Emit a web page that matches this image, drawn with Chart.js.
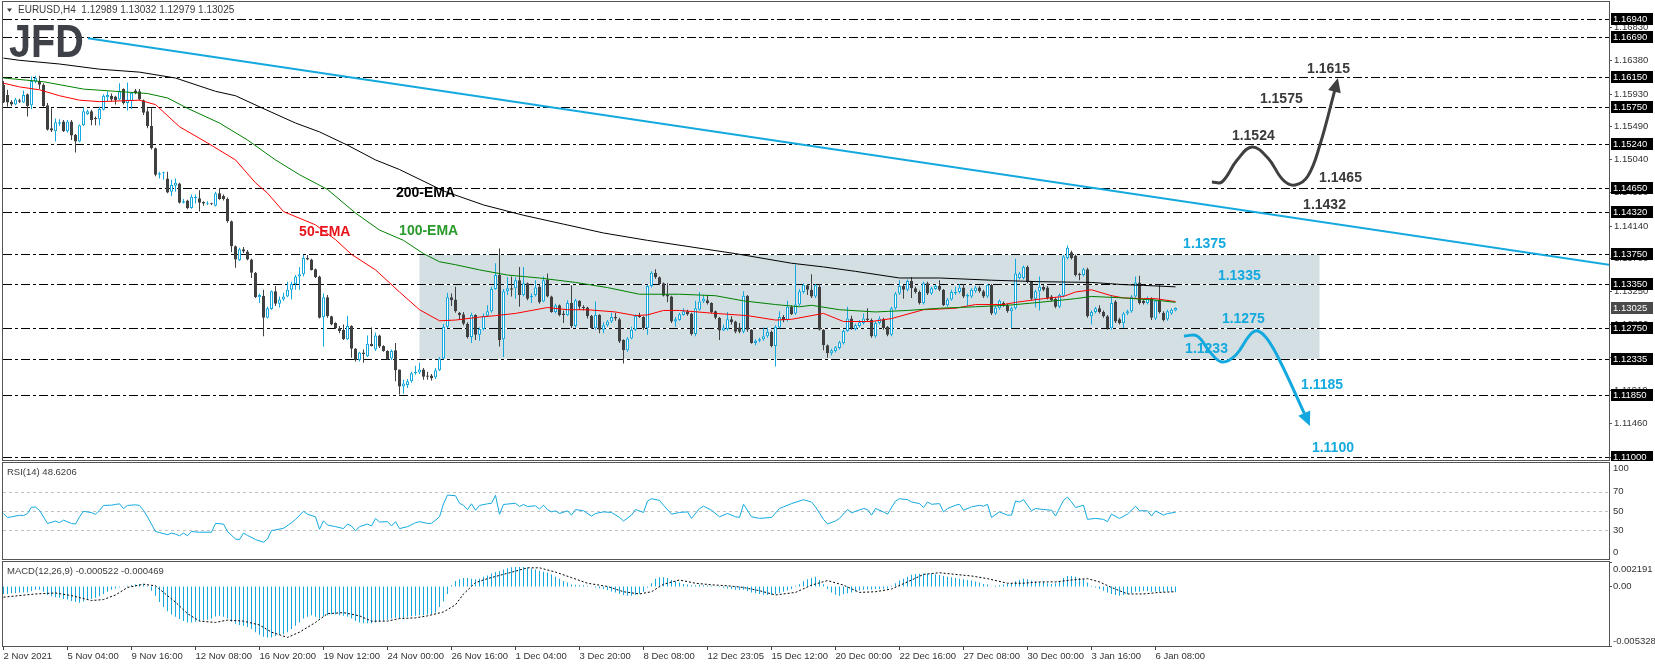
<!DOCTYPE html>
<html>
<head>
<meta charset="utf-8">
<title>EURUSD H4</title>
<script src="https://cdn.jsdelivr.net/npm/chart.js@4.4.1/dist/chart.umd.min.js"></script>
<style>
html, body { margin: 0; padding: 0; background: #fff; }
#wrap { position: relative; width: 1655px; height: 668px; overflow: hidden; background: #fff; }
#wrap canvas { position: absolute; left: 0; }
</style>
</head>
<body>
<div id="wrap">
  <canvas id="mainChart" width="1655" height="461" style="top:0"></canvas>
  <canvas id="rsiChart" width="1655" height="99" style="top:461px"></canvas>
  <canvas id="macdChart" width="1655" height="108" style="top:560px"></canvas>
</div>
<script>
// EURUSD H4 candles, one per bar
const opens = [
  1.1605,1.1591,1.1582,1.1578,1.1584,1.1581,1.1592,1.1577,1.1609,1.1610,
  1.1605,1.1577,1.1546,1.1542,1.1552,1.1555,1.1542,1.1555,1.1537,1.1528,
  1.1550,1.1565,1.1569,1.1560,1.1558,1.1571,1.1588,1.1590,1.1589,1.1585,
  1.1599,1.1580,1.1583,1.1597,1.1596,1.1584,1.1569,1.1549,1.1519,1.1483,
  1.1485,1.1478,1.1460,1.1468,1.1471,1.1445,1.1448,1.1438,1.1451,1.1451,
  1.1446,1.1443,1.1444,1.1441,1.1458,1.1454,1.1450,1.1420,1.1386,1.1367,
  1.1382,1.1379,1.1368,1.1350,1.1317,1.1319,1.1289,1.1301,1.1325,1.1308,
  1.1314,1.1318,1.1327,1.1335,1.1345,1.1348,1.1370,1.1368,1.1355,1.1345,
  1.1290,1.1317,1.1291,1.1282,1.1275,1.1273,1.1260,1.1278,1.1247,1.1232,
  1.1242,1.1237,1.1254,1.1246,1.1265,1.1251,1.1244,1.1234,1.1245,1.1219,
  1.1196,1.1198,1.1203,1.1214,1.1215,1.1219,1.1211,1.1211,1.1208,1.1218,
  1.1234,1.1277,1.1317,1.1314,1.1296,1.1294,1.1281,1.1263,1.1293,1.1266,
  1.1274,1.1292,1.1298,1.1328,1.1347,1.1260,1.1325,1.1329,1.1329,1.1340,
  1.1320,1.1336,1.1317,1.1320,1.1331,1.1311,1.1341,1.1318,1.1297,1.1306,
  1.1295,1.1293,1.1309,1.1278,1.1312,1.1304,1.1303,1.1292,1.1275,1.1293,
  1.1273,1.1279,1.1284,1.1290,1.1287,1.1259,1.1245,1.1261,1.1273,1.1292,
  1.1290,1.1275,1.1332,1.1350,1.1344,1.1336,1.1320,1.1318,1.1284,1.1286,
  1.1293,1.1298,1.1295,1.1267,1.1300,1.1311,1.1313,1.1309,1.1298,1.1289,
  1.1272,1.1274,1.1287,1.1284,1.1276,1.1270,1.1319,1.1273,1.1255,1.1258,
  1.1260,1.1264,1.1270,1.1251,1.1276,1.1290,1.1286,1.1304,1.1295,1.1307,
  1.1324,1.1333,1.1327,1.1318,1.1331,1.1273,1.1252,1.1241,1.1244,1.1248,
  1.1255,1.1271,1.1288,1.1274,1.1278,1.1282,1.1288,1.1286,1.1264,1.1282,
  1.1287,1.1277,1.1266,1.1302,1.1322,1.1332,1.1327,1.1339,1.1329,1.1324,
  1.1309,1.1336,1.1322,1.1328,1.1332,1.1327,1.1306,1.1314,1.1322,1.1324,
  1.1330,1.1318,1.1318,1.1325,1.1330,1.1325,1.1318,1.1334,1.1295,1.1302,
  1.1309,1.1306,1.1298,1.1302,1.1343,1.1343,1.1358,1.1338,1.1315,1.1325,
  1.1331,1.1330,1.1318,1.1315,1.1304,1.1319,1.1370,1.1378,1.1373,1.1348,
  1.1347,1.1355,1.1291,1.1297,1.1302,1.1297,1.1291,1.1275,1.1311,1.1287,
  1.1282,1.1295,1.1298,1.1318,1.1337,1.1312,1.1309,1.1315,1.1288,1.1312,
  1.1296,1.1287,1.1295,1.12989
];
const highs = [
  1.1610,1.1598,1.1584,1.1587,1.1586,1.1597,1.1593,1.1616,1.1617,1.1617,
  1.1607,1.1580,1.1573,1.1559,1.1558,1.1557,1.1557,1.1557,1.1538,1.1551,
  1.1574,1.1571,1.1571,1.1562,1.1575,1.1592,1.1596,1.1593,1.1590,1.1607,
  1.1600,1.1608,1.1595,1.1599,1.1599,1.1585,1.1573,1.1573,1.1520,1.1487,
  1.1487,1.1487,1.1476,1.1478,1.1472,1.1450,1.1449,1.1456,1.1456,1.1462,
  1.1447,1.1447,1.1445,1.1460,1.1465,1.1456,1.1452,1.1421,1.1387,1.1384,
  1.1385,1.1381,1.1369,1.1351,1.1322,1.1327,1.1304,1.1326,1.1332,1.1318,
  1.1323,1.1338,1.1338,1.1347,1.1358,1.1374,1.1374,1.1369,1.1356,1.1346,
  1.1322,1.1320,1.1292,1.1283,1.1278,1.1280,1.1292,1.1279,1.1248,1.1243,
  1.1246,1.1265,1.1276,1.1269,1.1266,1.1252,1.1245,1.1246,1.1255,1.1219,
  1.1205,1.1206,1.1216,1.1224,1.1228,1.1221,1.1216,1.1213,1.1221,1.1236,
  1.1281,1.1323,1.1322,1.1331,1.1297,1.1297,1.1283,1.1296,1.1294,1.1276,
  1.1295,1.1306,1.1331,1.1363,1.1383,1.1328,1.1344,1.1345,1.1344,1.1358,
  1.1358,1.1337,1.1322,1.1340,1.1334,1.1345,1.1349,1.1319,1.1308,1.1307,
  1.1299,1.1313,1.1333,1.1315,1.1313,1.1306,1.1304,1.1293,1.1311,1.1294,
  1.1283,1.1286,1.1296,1.1296,1.1289,1.1260,1.1263,1.1277,1.1294,1.1296,
  1.1291,1.1334,1.1352,1.1355,1.1345,1.1337,1.1336,1.1319,1.1290,1.1296,
  1.1302,1.1300,1.1296,1.1312,1.1324,1.1320,1.1320,1.1310,1.1299,1.1290,
  1.1280,1.1297,1.1291,1.1285,1.1282,1.1325,1.1320,1.1274,1.1260,1.1262,
  1.1276,1.1276,1.1272,1.1279,1.1298,1.1293,1.1312,1.1306,1.1361,1.1328,
  1.1336,1.1335,1.1348,1.1335,1.1335,1.1274,1.1253,1.1247,1.1251,1.1258,
  1.1273,1.1304,1.1292,1.1281,1.1286,1.1295,1.1302,1.1288,1.1284,1.1291,
  1.1289,1.1278,1.1304,1.1324,1.1340,1.1334,1.1341,1.1344,1.1331,1.1326,
  1.1338,1.1338,1.1331,1.1334,1.1340,1.1328,1.1316,1.1327,1.1331,1.1335,
  1.1335,1.1322,1.1329,1.1332,1.1332,1.1327,1.1335,1.1335,1.1305,1.1314,
  1.1311,1.1308,1.1304,1.1369,1.1351,1.1360,1.1360,1.1339,1.1327,1.1345,
  1.1333,1.1332,1.1320,1.1317,1.1322,1.1374,1.1387,1.1380,1.1375,1.1350,
  1.1357,1.1357,1.1299,1.1304,1.1306,1.1299,1.1293,1.1320,1.1313,1.1289,
  1.1297,1.1300,1.1320,1.1345,1.1346,1.1314,1.1318,1.1317,1.1314,1.1333,
  1.1298,1.1300,1.1302,1.13032
];
const lows = [
  1.1580,1.1575,1.1576,1.1577,1.1580,1.1580,1.1562,1.1572,1.1607,1.1599,
  1.1575,1.1543,1.1541,1.1528,1.1549,1.1541,1.1540,1.1530,1.1513,1.1527,
  1.1549,1.1564,1.1550,1.1550,1.1550,1.1570,1.1582,1.1582,1.1578,1.1584,
  1.1578,1.1570,1.1572,1.1592,1.1584,1.1564,1.1546,1.1517,1.1481,1.1478,
  1.1476,1.1458,1.1454,1.1460,1.1444,1.1444,1.1436,1.1437,1.1444,1.1433,
  1.1441,1.1442,1.1442,1.1440,1.1449,1.1448,1.1418,1.1378,1.1357,1.1366,
  1.1377,1.1367,1.1343,1.1316,1.1309,1.1264,1.1288,1.1300,1.1305,1.1303,
  1.1312,1.1317,1.1314,1.1327,1.1327,1.1345,1.1367,1.1353,1.1343,1.1288,
  1.1250,1.1289,1.1279,1.1274,1.1268,1.1259,1.1259,1.1235,1.1230,1.1230,
  1.1228,1.1236,1.1250,1.1244,1.1248,1.1243,1.1232,1.1232,1.1203,1.1185,
  1.1186,1.1194,1.1201,1.1212,1.1213,1.1205,1.1205,1.1204,1.1206,1.1217,
  1.1233,1.1275,1.1305,1.1296,1.1286,1.1279,1.1261,1.1255,1.1259,1.1258,
  1.1272,1.1290,1.1296,1.1327,1.1250,1.1236,1.1320,1.1318,1.1315,1.1304,
  1.1318,1.1313,1.1309,1.1318,1.1308,1.1310,1.1317,1.1296,1.1295,1.1291,
  1.1282,1.1292,1.1275,1.1276,1.1300,1.1299,1.1288,1.1274,1.1273,1.1268,
  1.1268,1.1277,1.1282,1.1285,1.1255,1.1227,1.1243,1.1260,1.1271,1.1289,
  1.1273,1.1266,1.1330,1.1342,1.1333,1.1318,1.1310,1.1282,1.1277,1.1285,
  1.1292,1.1292,1.1265,1.1264,1.1299,1.1309,1.1307,1.1295,1.1287,1.1259,
  1.1271,1.1272,1.1280,1.1268,1.1268,1.1268,1.1270,1.1254,1.1252,1.1256,
  1.1258,1.1262,1.1249,1.1223,1.1275,1.1283,1.1284,1.1293,1.1293,1.1305,
  1.1322,1.1320,1.1316,1.1316,1.1272,1.1245,1.1235,1.1238,1.1242,1.1246,
  1.1253,1.1270,1.1273,1.1272,1.1276,1.1280,1.1284,1.1262,1.1262,1.1280,
  1.1273,1.1264,1.1264,1.1300,1.1320,1.1315,1.1325,1.1316,1.1322,1.1307,
  1.1307,1.1320,1.1320,1.1327,1.1325,1.1305,1.1304,1.1312,1.1320,1.1322,
  1.1316,1.1305,1.1316,1.1323,1.1323,1.1316,1.1316,1.1293,1.1293,1.1300,
  1.1304,1.1296,1.1275,1.1300,1.1341,1.1341,1.1336,1.1313,1.1303,1.1299,
  1.1325,1.1314,1.1311,1.1302,1.1302,1.1317,1.1368,1.1368,1.1345,1.1340,
  1.1345,1.1289,1.1280,1.1295,1.1295,1.1289,1.1273,1.1273,1.1282,1.1280,
  1.1275,1.1293,1.1296,1.1316,1.1307,1.1307,1.1307,1.1286,1.1286,1.1295,
  1.1284,1.1285,1.1293,1.12979
];
const closes = [
  1.1581,1.1581,1.1578,1.1585,1.1582,1.1591,1.1576,1.1610,1.1614,1.1605,
  1.1576,1.1544,1.1543,1.1554,1.1554,1.1542,1.1555,1.1536,1.1528,1.1550,
  1.1569,1.1569,1.1557,1.1558,1.1572,1.1590,1.1591,1.1585,1.1584,1.1596,
  1.1580,1.1585,1.1594,1.1593,1.1585,1.1567,1.1549,1.1519,1.1483,1.1485,
  1.1486,1.1459,1.1469,1.1472,1.1445,1.1447,1.1438,1.1453,1.1453,1.1445,
  1.1444,1.1444,1.1443,1.1458,1.1450,1.1450,1.1420,1.1386,1.1368,1.1382,
  1.1379,1.1368,1.1350,1.1317,1.1320,1.1289,1.1302,1.1325,1.1308,1.1314,
  1.1318,1.1327,1.1335,1.1345,1.1348,1.1370,1.1368,1.1354,1.1344,1.1289,
  1.1317,1.1291,1.1280,1.1275,1.1271,1.1260,1.1278,1.1247,1.1232,1.1242,
  1.1240,1.1254,1.1251,1.1265,1.1250,1.1244,1.1233,1.1244,1.1218,1.1196,
  1.1200,1.1203,1.1214,1.1216,1.1219,1.1209,1.1209,1.1207,1.1218,1.1234,
  1.1277,1.1317,1.1313,1.1298,1.1293,1.1281,1.1263,1.1293,1.1266,1.1274,
  1.1292,1.1298,1.1328,1.1347,1.1259,1.1325,1.1329,1.1327,1.1340,1.1320,
  1.1336,1.1315,1.1319,1.1330,1.1310,1.1340,1.1318,1.1297,1.1306,1.1293,
  1.1293,1.1309,1.1278,1.1313,1.1304,1.1302,1.1291,1.1275,1.1293,1.1273,
  1.1279,1.1284,1.1290,1.1288,1.1257,1.1245,1.1261,1.1273,1.1292,1.1290,
  1.1275,1.1332,1.1350,1.1344,1.1335,1.1319,1.1318,1.1284,1.1287,1.1294,
  1.1298,1.1294,1.1267,1.1302,1.1311,1.1315,1.1309,1.1297,1.1289,1.1272,
  1.1276,1.1287,1.1283,1.1270,1.1270,1.1319,1.1273,1.1255,1.1258,1.1260,
  1.1264,1.1270,1.1251,1.1277,1.1290,1.1286,1.1304,1.1294,1.1307,1.1325,
  1.1334,1.1327,1.1318,1.1333,1.1273,1.1252,1.1241,1.1245,1.1249,1.1256,
  1.1271,1.1288,1.1275,1.1279,1.1283,1.1288,1.1286,1.1264,1.1282,1.1288,
  1.1275,1.1266,1.1302,1.1322,1.1332,1.1327,1.1339,1.1329,1.1324,1.1309,
  1.1336,1.1322,1.1329,1.1332,1.1327,1.1306,1.1314,1.1324,1.1324,1.1330,
  1.1318,1.1320,1.1327,1.1330,1.1325,1.1318,1.1334,1.1295,1.1303,1.1312,
  1.1306,1.1298,1.1302,1.1349,1.1349,1.1358,1.1338,1.1315,1.1325,1.1331,
  1.1327,1.1316,1.1313,1.1304,1.1320,1.1372,1.1384,1.1370,1.1347,1.1347,
  1.1355,1.1291,1.1297,1.1302,1.1297,1.1291,1.1275,1.1309,1.1284,1.1282,
  1.1295,1.1298,1.1318,1.1337,1.1309,1.1309,1.1316,1.1289,1.1312,1.1297,
  1.1286,1.1298,1.1300,1.13025
];

// moving averages, read at sample bars
const ema50Idx = [0,4,9,14,19,24,34,38,44,51,58,63,66,70,78,83,87,93,99,104,109,113,119,123,128,136,141,146,153,158,161,165,169,178,186,193,197,205,210,217,222,230,238,243,250,253,260,265,268,272,277,280,285,288,293];
const ema50 = [1.1607,1.1602,1.1598,1.1590,1.1584,1.1582,1.1584,1.1578,1.1548,1.1526,1.1503,1.1472,1.1458,1.1433,1.1415,1.1395,1.1375,1.1354,1.1324,1.1300,1.1285,1.1286,1.1290,1.1292,1.1295,1.1303,1.1300,1.1300,1.1297,1.1292,1.1293,1.1299,1.1299,1.1295,1.1292,1.1286,1.1287,1.1295,1.1284,1.1284,1.1288,1.1300,1.1302,1.1307,1.1307,1.1310,1.1315,1.1318,1.1324,1.1327,1.1319,1.1316,1.1315,1.1315,1.1311];
const ema100Idx = [0,10,20,28,36,41,46,54,61,68,74,81,88,94,100,105,109,113,119,126,134,143,151,159,169,178,185,193,199,202,209,218,226,234,243,251,259,268,272,280,288,293];
const ema100 = [1.1614,1.1609,1.1599,1.1596,1.1593,1.1587,1.1573,1.1553,1.1530,1.1503,1.1483,1.1463,1.1431,1.1408,1.1394,1.1376,1.1365,1.1361,1.1354,1.1347,1.1343,1.1337,1.1330,1.1321,1.1321,1.1319,1.1312,1.1307,1.1304,1.1306,1.1300,1.1297,1.1299,1.1302,1.1304,1.1306,1.1310,1.1315,1.1318,1.1316,1.1313,1.1310];
const ema200Idx = [0,4,14,24,34,43,53,58,64,73,79,86,93,99,110,120,130,140,150,161,183,197,205,213,224,234,247,259,272,280,285,293];
const ema200 = [1.1641,1.1638,1.1633,1.1626,1.1622,1.1614,1.1596,1.1590,1.1575,1.1553,1.1541,1.1523,1.1503,1.1490,1.1461,1.1442,1.1428,1.1416,1.1404,1.1394,1.1376,1.1363,1.1358,1.1352,1.1343,1.1343,1.1340,1.1338,1.1337,1.1334,1.1333,1.1331];

// RSI(14), read at sample bars
const rsiIdx = [
  0,1,2,4,5,6,7,8,9,11, 13,14,15,17,18,19,20,22,23,24, 25,27,28,29,30,31,33,34,35,36,
  38,39,41,42,43,44,45,46,47,49, 52,53,55,56,58,59,60,61,63,65, 66,67,68,70,72,73,75,76,78,79,
  80,81,83,85,86,87,88,89,91,92, 93,94,96,97,98,99,101,103,104,106, 107,109,110,111,113,114,115,116,117,118,
  119,121,122,123,124,125,128,129,130,131, 133,134,135,136,137,138,139,141,142,143, 145,147,148,150,152,154,155,157,158,160,
  161,162,164,165,167,169,171,172,174,175, 177,179,181,183,184,185,187,189,192,194, 195,197,200,202,203,205,206,208,209,211,
  212,215,216,217,218,220,221,223,224,226, 227,229,230,231,232,234,235,236,238,239, 240,242,244,245,246,247,249,251,252,253,
  254,255,257,258,260,262,263,265,266,267, 268,270,271,273,275,276,277,279,281,283, 284,286,287,288,290,291,293
];
const rsiVals = [
  47.3,43.2,43.9,45.6,45.3,47.3,54,54,50.7,37, 39.5,37.8,40.5,37,36.4,43.9,49.7,48.3,46.6,50.7, 55.8,56.1,56.8,57.5,52.4,55.8,56.4,55.8,50.7,43.9,
  28.6,27.6,25.3,27,25.9,24.2,27,24.2,28.6,27.9, 27.9,37.1,36.4,28.6,20.8,20.2,27,24.6,20.2,17.5, 20.8,29.7,30.3,32,37.8,41.2,49.7,46.6,43.9,31,
  39.8,35.4,33.7,31.7,36.4,34.4,29.3,33.7,36.4,34.4, 42.2,38.5,38.9,34.4,38.9,31.7,33.7,37.8,38.9,37.1, 37.1,43.9,57.5,66.6,65.9,58.1,55.8,51.4,57.5,50.7,
  55.8,57.5,58.1,66.3,46.6,56.8,58.1,54.7,56.8,54.7, 55.4,52,56.1,51.4,49.1,50.2,47.4,50.2,45.7,51.5, 50.2,44.7,47.4,49.1,48.5,43.3,39.6,45.7,51.5,48.5,
  60.4,62.8,61.1,56,46.7,48.5,49.1,42.3,52.6,55, 50.8,44,47.4,44,43.3,57,44,42.3,43.3,52.6, 54.3,57.7,61.8,59.4,54.3,41.3,36.5,39.6,42.3,51.5,
  48.1,52.6,51.5,45.7,52.6,49.1,46.7,60.4,62.8,61.8, 59.4,57.7,53.6,59.4,57,57.7,49.1,52.6,56,57, 50.8,54.3,56,55,57,43.3,49.1,45.7,45.7,60.4,
  59.4,61.8,50.2,52.6,51.5,50.8,44.7,61.1,64.5,59.4, 53.6,56,41.3,42.3,41.3,38.9,46.7,42.3,46.7,55, 50.2,50.2,44.7,50.2,45.7,47.4,48.62
];

// MACD(12,26,9): main value per bar and the signal line at sample bars
const macdHist = [
  -0.00067,-0.00067,-0.00061,-0.00058,-0.00053,-0.00053,-0.00053,-0.00041,-0.00029,-0.00029,
  -0.00047,-0.00076,-0.00088,-0.00096,-0.00102,-0.00111,-0.00117,-0.00129,-0.00140,-0.00146,
  -0.00135,-0.00117,-0.00111,-0.00102,-0.00088,-0.00067,-0.00047,-0.00029,-0.00018,-0.00006,
  0.00003,0.00006,0.00012,0.00018,0.00020,0.00018,0.00006,-0.00038,-0.00082,-0.00140,
  -0.00184,-0.00222,-0.00251,-0.00272,-0.00292,-0.00310,-0.00322,-0.00322,-0.00316,-0.00310,
  -0.00304,-0.00298,-0.00287,-0.00269,-0.00263,-0.00272,-0.00287,-0.00316,-0.00333,-0.00345,
  -0.00351,-0.00363,-0.00380,-0.00409,-0.00433,-0.00450,-0.00456,-0.00456,-0.00444,-0.00433,
  -0.00427,-0.00409,-0.00380,-0.00351,-0.00322,-0.00287,-0.00272,-0.00257,-0.00272,-0.00287,
  -0.00269,-0.00257,-0.00251,-0.00251,-0.00257,-0.00263,-0.00272,-0.00287,-0.00310,-0.00322,
  -0.00330,-0.00330,-0.00330,-0.00322,-0.00316,-0.00304,-0.00298,-0.00287,-0.00281,-0.00287,
  -0.00281,-0.00272,-0.00266,-0.00263,-0.00257,-0.00257,-0.00251,-0.00246,-0.00234,-0.00184,
  -0.00135,-0.00067,0.00012,0.00050,0.00064,0.00076,0.00076,0.00070,0.00064,0.00070,
  0.00088,0.00099,0.00117,0.00129,0.00137,0.00152,0.00164,0.00173,0.00175,0.00175,
  0.00175,0.00170,0.00161,0.00152,0.00140,0.00132,0.00125,0.00108,0.00088,0.00070,
  0.00050,0.00035,0.00018,0.00015,0.00012,0.00012,0.00006,-0.00003,-0.00009,-0.00015,
  -0.00023,-0.00032,-0.00044,-0.00053,-0.00064,-0.00076,-0.00082,-0.00082,-0.00076,-0.00064,
  -0.00047,-0.00009,0.00029,0.00070,0.00082,0.00082,0.00076,0.00058,0.00047,0.00035,
  0.00023,0.00018,0.00012,0.00012,0.00015,0.00012,0.00009,0.00006,-0.00002,-0.00006,
  -0.00012,-0.00018,-0.00023,-0.00029,-0.00032,-0.00029,-0.00041,-0.00053,-0.00061,-0.00067,
  -0.00073,-0.00076,-0.00076,-0.00067,-0.00058,-0.00047,-0.00035,-0.00023,0.00006,0.00020,
  0.00047,0.00064,0.00079,0.00088,0.00058,0.00020,-0.00023,-0.00053,-0.00073,-0.00082,
  -0.00070,-0.00061,-0.00053,-0.00044,-0.00035,-0.00029,-0.00026,-0.00026,-0.00023,-0.00023,
  -0.00020,-0.00018,0.00006,0.00029,0.00053,0.00070,0.00088,0.00105,0.00111,0.00114,
  0.00117,0.00117,0.00114,0.00108,0.00102,0.00094,0.00088,0.00082,0.00076,0.00070,
  0.00064,0.00058,0.00053,0.00044,0.00035,0.00023,0.00018,-0.00002,0.00006,0.00012,
  0.00018,0.00023,0.00029,0.00047,0.00058,0.00070,0.00064,0.00053,0.00047,0.00041,
  0.00041,0.00029,0.00023,0.00029,0.00047,0.00076,0.00094,0.00094,0.00088,0.00076,
  0.00064,0.00035,0.00006,-0.00009,-0.00023,-0.00038,-0.00053,-0.00067,-0.00076,-0.00082,
  -0.00076,-0.00067,-0.00058,-0.00047,-0.00047,-0.00041,-0.00041,-0.00047,-0.00044,-0.00047,
  -0.00047,-0.00044,-0.00047,-0.000522
];
const signalIdx = [0,8,13,17,22,25,28,31,35,38,40,43,46,49,53,56,60,64,67,71,74,78,81,85,89,92,96,99,103,106,110,113,115,118,121,124,128,131,134,138,142,146,151,155,159,162,165,169,173,177,181,185,189,193,198,202,206,210,214,218,222,226,230,234,238,242,246,251,255,259,263,267,271,274,277,281,285,289,293];
const signalVals = [-0.00096,-0.00067,-0.00058,-0.00082,-0.00126,-0.00117,-0.00076,-0.00009,0.00020,0.00006,-0.00053,-0.00140,-0.00243,-0.00310,-0.00322,-0.00301,-0.00310,-0.00345,-0.00409,-0.00456,-0.00409,-0.00322,-0.00243,-0.00234,-0.00263,-0.00310,-0.00310,-0.00287,-0.00281,-0.00263,-0.00228,-0.00164,-0.00067,0.00035,0.00070,0.00099,0.00137,0.00167,0.00167,0.00129,0.00079,0.00029,0.00000,-0.00047,-0.00067,-0.00047,0.00020,0.00058,0.00029,0.00015,0.00006,-0.00009,-0.00038,-0.00076,-0.00053,0.00012,0.00053,0.00012,-0.00053,-0.00047,-0.00023,0.00041,0.00108,0.00123,0.00108,0.00094,0.00070,0.00029,0.00029,0.00041,0.00041,0.00058,0.00070,0.00041,-0.00009,-0.00067,-0.00067,-0.00053,-0.000469];

// horizontal levels and axis ticks
const levels = [1.1694, 1.1669, 1.1615, 1.1575, 1.1524, 1.1465, 1.1432, 1.1375, 1.1335, 1.1275, 1.12335, 1.1185, 1.1100];
const priceTicks = [1.1683, 1.1638, 1.1593, 1.1549, 1.1504, 1.1459, 1.1414, 1.1370, 1.1325, 1.1280, 1.1236, 1.1191, 1.1146, 1.1101];
const lastPrice = 1.13025;
const rsiTicks = [100, 70, 50, 30, 0];
const rsiLevels = [70, 50, 30];
const macdTicks = [0.002191, 0, -0.005328];
const timeIdx = [0,16,32,48,64,80,96,112,128,144,160,176,192,208,224,240,256,272,288];
const timeLabels = ['2 Nov 2021','5 Nov 04:00','9 Nov 16:00','12 Nov 08:00','16 Nov 20:00','19 Nov 12:00','24 Nov 00:00','26 Nov 16:00','1 Dec 04:00','3 Dec 20:00','8 Dec 08:00','12 Dec 23:05','15 Dec 12:00','20 Dec 00:00','22 Dec 16:00','27 Dec 08:00','30 Dec 00:00','3 Jan 16:00','6 Jan 08:00'];

// drawn objects (bar index, price)
const channelBars = [104, 329];
const channelPrices = [1.12335, 1.1375];
const trendIdx = [21.1, 401.4];
const trendPrice = [1.1668, 1.1361];
const upIdx = [302.1, 304.6, 308.4, 312.1, 316.1, 319.9, 322.9, 326.1, 329.1, 332.8, 333.6];
const upPrice = [1.14731, 1.14731, 1.15029, 1.15205, 1.15056, 1.14758, 1.14690, 1.14812, 1.15232, 1.15970, 1.16140];
const downIdx = [295.1, 298.4, 301.6, 304.6, 308.1, 311.6, 313.6, 316.1, 319.6, 325.3, 326.6];
const downPrice = [1.12644, 1.12644, 1.12427, 1.12292, 1.12387, 1.12658, 1.12712, 1.12590, 1.12251, 1.11584, 1.11424];

const FONT = '"Liberation Sans", Arial, sans-serif';
const CYAN = '#14a9de', DARK = '#404040', TEXT = '#333333', FRAME = '#555555';
const X_MIN = -0.125, X_MAX = 401.375;

const bars = opens.map((_, i) => i);
const isBull = bars.map(i => closes[i] >= opens[i]);
const pts = (xs, ys, n) => xs.slice(0, n || xs.length).map((x, k) => ({ x, y: ys[k] }));

function lineSet(label, data, color, width, order, extra) {
  return Object.assign({ type: 'line', label, data, borderColor: color, borderWidth: width,
    pointRadius: 0, fill: false, tension: 0, order }, extra || {});
}

function baseOptions(yMin, yMax, pad) {
  return {
    responsive: false, animation: false, devicePixelRatio: 1,
    layout: { padding: pad },
    plugins: { legend: { display: false }, tooltip: { enabled: false } },
    scales: {
      x: { type: 'linear', min: X_MIN, max: X_MAX, display: false, offset: false, bounds: 'data', grid: { offset: false } },
      y: { type: 'linear', min: yMin, max: yMax, display: false, bounds: 'data' }
    }
  };
}

function frame(ctx, a) {
  ctx.strokeStyle = FRAME; ctx.lineWidth = 1; ctx.setLineDash([]);
  ctx.strokeRect(a.left - 0.5, a.top - 0.5, a.right - a.left + 1, a.bottom - a.top + 1);
}

function arrowHead(ctx, x, y, xs, ys, color) {
  const n = xs.length;
  const bx = x.getPixelForValue(xs[n - 2]), by = y.getPixelForValue(ys[n - 2]);
  const tx = x.getPixelForValue(xs[n - 1]), ty = y.getPixelForValue(ys[n - 1]);
  const ang = Math.atan2(ty - by, tx - bx), len = 14, half = 6.5;
  const cx = tx - len * Math.cos(ang), cy = ty - len * Math.sin(ang);
  ctx.fillStyle = color;
  ctx.beginPath();
  ctx.moveTo(tx, ty);
  ctx.lineTo(cx + half * Math.sin(ang), cy - half * Math.cos(ang));
  ctx.lineTo(cx - half * Math.sin(ang), cy + half * Math.cos(ang));
  ctx.closePath();
  ctx.fill();
}

// ---------------- price panel ----------------
const mainDecor = {
  id: 'mainDecor',
  beforeDatasetsDraw(chart) {
    const { ctx, chartArea: a, scales: { x, y } } = chart;
    ctx.save();
    const x0 = x.getPixelForValue(channelBars[0]), x1 = x.getPixelForValue(channelBars[1]);
    const y0 = y.getPixelForValue(channelPrices[1]), y1 = y.getPixelForValue(channelPrices[0]);
    ctx.fillStyle = '#d3dfe3';
    ctx.fillRect(x0, y0, x1 - x0, y1 - y0);
    ctx.lineWidth = 1;
    levels.forEach(v => {
      const py = Math.round(y.getPixelForValue(v)) + 0.5;
      ctx.setLineDash([]); ctx.strokeStyle = '#ffffff';
      ctx.beginPath(); ctx.moveTo(x0, py); ctx.lineTo(x1, py); ctx.stroke();
      ctx.setLineDash([9, 3, 3, 3]); ctx.strokeStyle = '#000000';
      ctx.beginPath(); ctx.moveTo(a.left, py); ctx.lineTo(a.right, py); ctx.stroke();
    });
    ctx.restore();
  },
  afterDraw(chart) {
    const { ctx, chartArea: a, scales: { x, y } } = chart;
    ctx.save();
    arrowHead(ctx, x, y, upIdx, upPrice, '#404040');
    arrowHead(ctx, x, y, downIdx, downPrice, CYAN);

    // chart notes
    const notes = [
      ['200-EMA', 98.1, 1.14582, '#000000'], ['50-EMA', 73.9, 1.14053, '#e8141c'], ['100-EMA', 98.9, 1.14067, '#2a9a2a'],
      ['1.1615', 325.9, 1.16262, '#3a3a3a'], ['1.1575', 314.1, 1.15856, '#3a3a3a'], ['1.1524', 307.1, 1.15354, '#3a3a3a'],
      ['1.1465', 328.9, 1.14785, '#3a3a3a'], ['1.1432', 324.9, 1.14419, '#3a3a3a'],
      ['1.1375', 294.9, 1.13891, CYAN], ['1.1335', 303.6, 1.13457, CYAN], ['1.1275', 304.6, 1.12874, CYAN],
      ['1.1233', 295.4, 1.12468, CYAN], ['1.1185', 324.4, 1.11980, CYAN], ['1.1100', 327.1, 1.11126, CYAN]
    ];
    ctx.font = 'bold 14px ' + FONT;
    ctx.textBaseline = 'middle'; ctx.textAlign = 'left';
    notes.forEach(([t, i, p, c]) => { ctx.fillStyle = c; ctx.fillText(t, x.getPixelForValue(i), y.getPixelForValue(p)); });

    // logo
    ctx.save();
    ctx.fillStyle = '#3e4248';
    ctx.font = 'bold 46px ' + FONT;
    ctx.textBaseline = 'alphabetic';
    ctx.translate(9, 57); ctx.scale(0.86, 1);
    ctx.fillText('JFD', 0, 0);
    ctx.restore();

    // header
    ctx.fillStyle = '#3a3a3a';
    ctx.beginPath(); ctx.moveTo(7, 8.5); ctx.lineTo(12, 8.5); ctx.lineTo(9.5, 12); ctx.closePath(); ctx.fill();
    ctx.font = '10px ' + FONT; ctx.textBaseline = 'middle';
    ctx.fillText('EURUSD,H4  1.12989 1.13032 1.12979 1.13025', 18, 10.5);

    // price axis
    ctx.font = '9.5px ' + FONT;
    ctx.lineWidth = 1; ctx.setLineDash([]);
    priceTicks.forEach(v => {
      const py = Math.round(y.getPixelForValue(v)) + 0.5;
      ctx.strokeStyle = FRAME; ctx.beginPath(); ctx.moveTo(a.right, py); ctx.lineTo(a.right + 3, py); ctx.stroke();
      ctx.fillStyle = TEXT; ctx.fillText(v.toFixed(5), a.right + 5, py);
    });
    const box = (v, bg) => {
      const py = Math.round(y.getPixelForValue(v));
      ctx.fillStyle = bg; ctx.fillRect(a.right + 2, py - 6, 42, 12);
      ctx.fillStyle = '#ffffff'; ctx.fillText(v.toFixed(5), a.right + 4, py + 0.5);
    };
    levels.forEach(v => box(v, '#000000'));
    box(lastPrice, '#4a4a4a');
    frame(ctx, a);
    ctx.restore();
  }
};

new Chart(document.getElementById('mainChart'), {
  type: 'bar',
  data: {
    datasets: [
      { label: 'wick', data: bars.map(i => ({ x: i, y: [lows[i], highs[i]] })),
        backgroundColor: bars.map(i => isBull[i] ? CYAN : DARK), borderWidth: 0,
        barThickness: 1, maxBarThickness: 1, grouped: false, inflateAmount: 0, order: 6 },
      { label: 'body', data: bars.map(i => ({ x: i, y: [opens[i], closes[i]] })),
        backgroundColor: bars.map(i => isBull[i] ? '#ffffff' : DARK),
        borderColor: bars.map(i => isBull[i] ? CYAN : DARK), borderWidth: 1, borderSkipped: false,
        barThickness: 3, maxBarThickness: 3, minBarLength: 1, grouped: false, inflateAmount: 0, order: 5 },
      lineSet('200-EMA', pts(ema200Idx, ema200), '#000000', 1, 3),
      lineSet('100-EMA', pts(ema100Idx, ema100), '#008000', 1, 3),
      lineSet('50-EMA', pts(ema50Idx, ema50), '#ff0000', 1, 3),
      lineSet('trend', pts(trendIdx, trendPrice), CYAN, 2, 2),
      lineSet('up', pts(upIdx, upPrice, upIdx.length - 1), '#404040', 3, 1, { tension: 0.4 }),
      lineSet('down', pts(downIdx, downPrice, downIdx.length - 1), CYAN, 3, 1, { tension: 0.4 })
    ]
  },
  options: baseOptions(1.109634, 1.171704, { left: 3, right: 46, top: 2, bottom: 1 }),
  plugins: [mainDecor]
});

// ---------------- RSI panel ----------------
const rsiDecor = {
  id: 'rsiDecor',
  beforeDatasetsDraw(chart) {
    const { ctx, chartArea: a, scales: { y } } = chart;
    ctx.save();
    ctx.strokeStyle = '#c0c0c0'; ctx.lineWidth = 1; ctx.setLineDash([3, 3]);
    rsiLevels.forEach(v => {
      const py = Math.round(y.getPixelForValue(v)) + 0.5;
      ctx.beginPath(); ctx.moveTo(a.left, py); ctx.lineTo(a.right, py); ctx.stroke();
    });
    ctx.restore();
  },
  afterDraw(chart) {
    const { ctx, chartArea: a, scales: { y } } = chart;
    ctx.save();
    ctx.font = '9.5px ' + FONT; ctx.textBaseline = 'middle'; ctx.textAlign = 'left';
    ctx.fillStyle = TEXT;
    rsiTicks.forEach(v => {
      const py = Math.min(Math.max(y.getPixelForValue(v), a.top + 5), a.bottom - 7);
      ctx.fillText(String(v), a.right + 4, py);
    });
    ctx.fillStyle = '#3a3a3a';
    ctx.fillText('RSI(14) 48.6206', 7, a.top + 9.5);
    frame(ctx, a);
    ctx.restore();
  }
};

new Chart(document.getElementById('rsiChart'), {
  type: 'line',
  data: { datasets: [lineSet('RSI', pts(rsiIdx, rsiVals), CYAN, 1, 1)] },
  options: baseOptions(0, 100, { left: 3, right: 46, top: 2, bottom: 1 }),
  plugins: [rsiDecor]
});

// ---------------- MACD panel ----------------
const macdDecor = {
  id: 'macdDecor',
  afterDraw(chart) {
    const { ctx, chartArea: a, scales: { y } } = chart;
    ctx.save();
    ctx.font = '9.5px ' + FONT; ctx.textBaseline = 'middle'; ctx.textAlign = 'left';
    macdTicks.forEach(v => {
      const raw = Math.round(y.getPixelForValue(v)) + 0.5;
      ctx.strokeStyle = FRAME; ctx.lineWidth = 1;
      ctx.beginPath(); ctx.moveTo(a.right, raw); ctx.lineTo(a.right + 3, raw); ctx.stroke();
      const py = Math.min(Math.max(raw, a.top + 7), a.bottom - 5);
      ctx.fillStyle = TEXT;
      ctx.fillText(v === 0 ? '0.00' : v.toFixed(6), a.right + 4, py);
    });
    ctx.fillStyle = '#3a3a3a';
    ctx.fillText('MACD(12,26,9) -0.000522 -0.000469', 7, a.top + 9);
    frame(ctx, a);
    ctx.restore();
  }
};

const macdOpts = baseOptions(-0.005328, 0.002191, { left: 3, right: 46, top: 2, bottom: 0 });
macdOpts.scales.x = {
  type: 'linear', min: X_MIN, max: X_MAX, offset: false, bounds: 'data', position: 'bottom',
  afterBuildTicks: s => { s.ticks = timeIdx.map(v => ({ value: v })); },
  afterFit: s => { s.height = 22; },
  grid: { drawOnChartArea: false, drawTicks: true, tickLength: 4, color: '#404040', offset: false },
  border: { display: false },
  ticks: { autoSkip: false, maxRotation: 0, minRotation: 0, align: 'start', padding: 1, color: TEXT,
    font: { family: FONT, size: 9.5 }, callback: (v, k) => timeLabels[k] }
};

new Chart(document.getElementById('macdChart'), {
  type: 'bar',
  data: {
    datasets: [
      { label: 'MACD', data: bars.map(i => ({ x: i, y: macdHist[i] })), backgroundColor: CYAN,
        barThickness: 1, maxBarThickness: 1, grouped: false, inflateAmount: 0, order: 2 },
      lineSet('Signal', pts(signalIdx, signalVals), '#000000', 1, 1, { borderDash: [2, 2] })
    ]
  },
  options: macdOpts,
  plugins: [macdDecor]
});
</script>
</body>
</html>
